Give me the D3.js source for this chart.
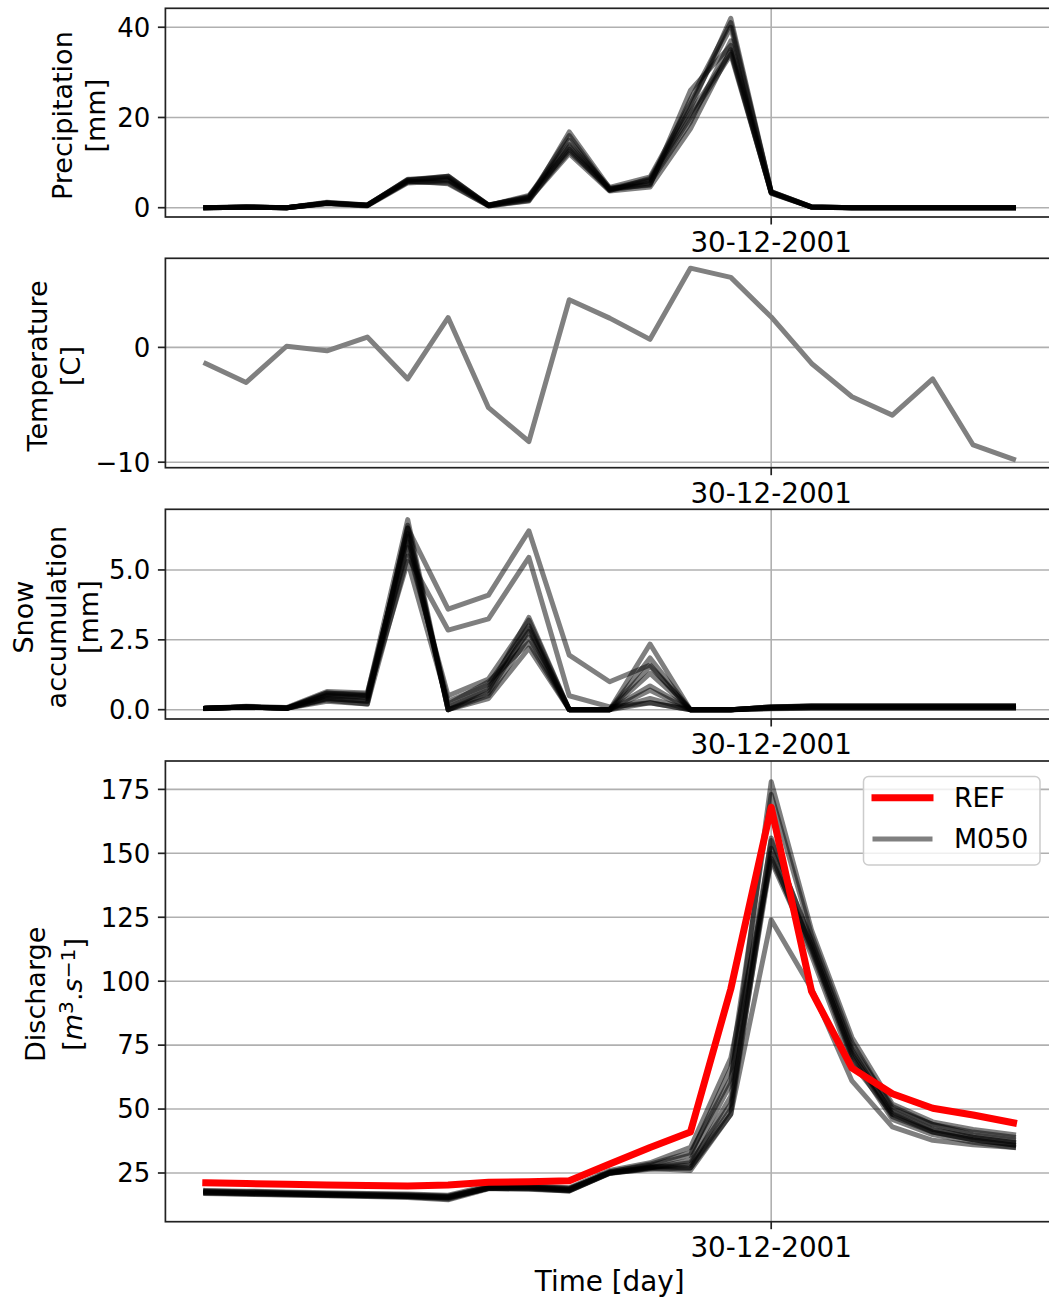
<!DOCTYPE html>
<html>
<head>
<meta charset="utf-8">
<script src="https://cdn.jsdelivr.net/npm/d3@7"></script>
<style>
  body { margin: 0; background: #fff; }
  svg text { font-family: "DejaVu Sans", sans-serif; fill: #000; }
</style>
</head>
<body>
<div id="canvas"></div>
<script>
// day index along the x axis, one tick label only
const days = [0,1,2,3,4,5,6,7,8,9,10,11,12,13,14,15,16,17,18,19,20];
const dateTicks = [14];
const dateLabels = ["30-12-2001"];

// precipitation ensemble [mm]
const precipMembers = [
  [0,0.1,0,1.1,0.6,6.2,7.0,0.5,2.5,13.0,3.8,6.5,22,42,3.5,0.2,0,0,0,0,0],
  [0,0.1,0,1.0,0.5,5.8,5.5,0.4,1.6,16.8,4.3,5.0,26,36,3.3,0.1,0,0,0,0,0],
  [0,0.2,0,1.2,0.6,6.0,6.8,0.6,2.2,15.0,4.0,6.0,20,34,3.4,0.2,0,0,0,0,0],
  [0,0.1,0,0.9,0.4,5.5,6.0,0.5,1.8,12.0,3.7,4.6,17.5,35,3.2,0.1,0,0,0,0,0],
  [0,0.1,0,1.0,0.5,6.3,6.5,0.5,2.7,14.0,4.5,6.8,23,40,3.6,0.2,0,0,0,0,0],
  [0,0.1,0,1.1,0.5,5.9,5.3,0.4,1.5,13.5,4.1,5.5,19,37,3.4,0.1,0,0,0,0,0],
  [0,0.1,0,1.0,0.6,6.1,7.0,0.6,2.3,16.0,3.9,5.2,24,41,3.5,0.2,0,0,0,0,0],
  [0,0.2,0,1.0,0.5,5.7,6.2,0.5,2.0,12.5,4.2,6.2,21,34.5,3.3,0.1,0,0,0,0,0]
];

// temperature [C]
const temperature = [-1.4,-3.05,0.1,-0.3,0.9,-2.75,2.6,-5.25,-8.2,4.15,2.55,0.7,6.9,6.1,2.65,-1.4,-4.3,-5.9,-2.75,-8.5,-9.75];

// snow accumulation ensemble [mm]
const snowMembers = [
  [0.05,0.1,0.05,0.4,0.3,6.5,3.6,4.1,6.4,1.95,1.0,1.6,0,0,0.1,0.12,0.12,0.12,0.12,0.12,0.12],
  [0.05,0.1,0.05,0.3,0.2,5.5,2.85,3.25,5.45,0.5,0.1,0.25,0,0,0.08,0.1,0.1,0.1,0.1,0.1,0.1],
  [0.05,0.1,0.05,0.6,0.55,6.8,0.0,0.5,2.6,0,0,2.35,0,0,0.1,0.12,0.12,0.12,0.12,0.12,0.12],
  [0.05,0.12,0.08,0.65,0.6,6.2,0.1,0.7,3.3,0,0,1.85,0,0,0.1,0.13,0.13,0.13,0.13,0.13,0.13],
  [0.04,0.1,0.05,0.5,0.4,6.5,0.0,0.4,2.2,0,0,1.55,0,0,0.05,0.08,0.08,0.08,0.08,0.08,0.08],
  [0.05,0.08,0.05,0.4,0.3,6.0,0.3,0.9,3.0,0,0,1.3,0,0,0.06,0.1,0.1,0.1,0.1,0.1,0.1],
  [0.05,0.1,0.06,0.55,0.5,5.8,0.5,1.1,3.2,0,0,0.85,0,0,0.04,0.06,0.06,0.06,0.06,0.06,0.06],
  [0.05,0.1,0.05,0.35,0.2,6.6,0.0,0.6,2.9,0,0,0.7,0,0,0.08,0.1,0.1,0.1,0.1,0.1,0.1],
  [0.05,0.1,0.05,0.5,0.45,5.3,0.2,1.0,2.4,0,0,0.4,0,0,0.03,0.05,0.05,0.05,0.05,0.05,0.05],
  [0.05,0.1,0.05,0.6,0.5,6.3,0.0,0.8,2.8,0,0,0.25,0,0,0.1,0.14,0.14,0.14,0.14,0.14,0.14]
];

// discharge ensemble [m3/s]
const dischargeMembers = [
  [17.5,17.1,16.8,16.4,16.1,15.8,15.3,19.0,18.6,18.0,25.0,26.5,27,48,124,97,61,43,37.8,36,35],
  [18.0,17.7,17.4,17.0,16.8,16.5,16.0,19.5,19.8,19.0,25.0,27.0,30,60,178,120,78,52,45,42,40],
  [17.5,17.2,16.9,16.6,16.3,16.0,15.5,19.0,19.3,18.6,25.5,28.0,32,66,173,118,76,50,44,41,39],
  [17.2,16.8,16.5,16.2,16.0,15.7,14.8,19.2,19.0,18.2,25.0,27.5,27,50,156,115,73,48,42,39,37],
  [17.0,16.7,16.4,16.1,15.8,15.4,14.5,18.8,18.8,18.0,24.8,26.8,26,48,152,113,72,47,41,38,36],
  [18.2,17.9,17.6,17.3,17.0,16.8,16.3,20.0,20.0,19.2,26.0,29.0,35,70,147,112,70,46,40,37,35],
  [17.6,17.3,17.0,16.7,16.4,16.1,15.6,19.6,19.6,18.8,25.2,27.2,28,55,150,110,68,48,41,38,36],
  [17.8,17.5,17.2,16.9,16.6,16.3,15.8,19.4,19.4,18.5,25.4,28.5,33,62,155,116,74,51,44,40,38],
  [17.3,17.0,16.7,16.4,16.1,15.8,15.2,19.0,19.2,18.3,24.9,27.0,29,52,148,114,71,49,42,39,37]
];

// observed reference discharge
const dischargeRef = [21.2,20.9,20.6,20.3,20.1,19.9,20.3,21.4,21.6,22.0,28.5,35,41,97,168,96,66,56,50.3,47.7,44.6];

const yTicksPrecip = [0,20,40];
const yTicksTemp = [-10,0];
const yTicksSnow = [0,2.5,5.0];
const yTicksDischarge = [25,50,75,100,125,150,175];

const legendLabels = ["REF","M050"];

const W = 1049, H = 1300;
const fontSize = 26;
const labelSize = 27;
const xLabelSize = 27.8;
const xLeft = 165.4, xRight = 1053.9;

const svg = d3.select("#canvas").append("svg")
  .attr("width", W).attr("height", H);

const x = d3.scaleLinear().domain([-1,21]).range([xLeft, xRight]);

function panel(cfg){
  const y = d3.scaleLinear().domain(cfg.domain).range([cfg.bottom, cfg.top]);
  const g = svg.append("g");

  // grid
  g.selectAll(".hgrid").data(cfg.ticks).enter().append("line")
    .attr("x1", xLeft).attr("x2", xRight)
    .attr("y1", d => y(d)).attr("y2", d => y(d))
    .attr("stroke", "#b0b0b0").attr("stroke-width", 1.6);
  g.selectAll(".vgrid").data(dateTicks).enter().append("line")
    .attr("x1", d => x(d)).attr("x2", d => x(d))
    .attr("y1", cfg.top).attr("y2", cfg.bottom)
    .attr("stroke", "#b0b0b0").attr("stroke-width", 1.6);

  const line = d3.line().x((d,i) => x(days[i])).y(d => y(d));

  // ensemble or single series
  cfg.series.forEach(s => {
    g.append("path").datum(s.values)
      .attr("d", line)
      .attr("fill", "none")
      .attr("stroke", s.color)
      .attr("stroke-opacity", s.opacity)
      .attr("stroke-width", s.width)
      .attr("stroke-linecap", "square")
      .attr("stroke-linejoin", "round");
  });

  // spines
  g.append("rect")
    .attr("x", xLeft).attr("y", cfg.top)
    .attr("width", xRight - xLeft).attr("height", cfg.bottom - cfg.top)
    .attr("fill", "none").attr("stroke", "#222").attr("stroke-width", 1.7);

  // y axis ticks
  g.selectAll(".ytick").data(cfg.ticks).enter().append("line")
    .attr("x1", xLeft - 7.5).attr("x2", xLeft)
    .attr("y1", d => y(d)).attr("y2", d => y(d))
    .attr("stroke", "#222").attr("stroke-width", 1.7);
  g.selectAll(".ylab").data(cfg.ticks).enter().append("text")
    .attr("x", xLeft - 15).attr("y", d => y(d))
    .attr("dy", "0.36em")
    .attr("text-anchor", "end")
    .style("font-size", fontSize + "px")
    .text(cfg.format);

  // x date tick
  g.selectAll(".xtick").data(dateTicks).enter().append("line")
    .attr("x1", d => x(d)).attr("x2", d => x(d))
    .attr("y1", cfg.bottom).attr("y2", cfg.bottom + 7.5)
    .attr("stroke", "#222").attr("stroke-width", 1.7);
  g.selectAll(".xlab").data(dateTicks).enter().append("text")
    .attr("x", d => x(d)).attr("y", cfg.bottom + 35)
    .attr("text-anchor", "middle")
    .style("font-size", xLabelSize + "px")
    .text((d,i) => dateLabels[i]);

  // y label, one text per line, rotated
  const cy = (cfg.top + cfg.bottom) / 2 + 3;
  cfg.label.forEach(l => {
    const t = g.append("text")
      .attr("transform", "translate(" + l.x + "," + cy + ") rotate(-90)")
      .attr("text-anchor", "middle")
      .style("font-size", labelSize + "px");
    l.parts.forEach(p => {
      t.append("tspan")
        .attr("dy", p.dy || 0)
        .style("font-style", p.italic ? "italic" : "normal")
        .style("font-size", p.small ? (labelSize * 0.75) + "px" : null)
        .text(p.t);
    });
  });

  return {g: g, y: y};
}

const ens = (vals) => vals.map(v => ({values: v, color: "#000", opacity: 0.5, width: 5}));

panel({
  top: 8.3, bottom: 217, domain: [-2.06, 44.2],
  ticks: yTicksPrecip, format: d => d,
  series: ens(precipMembers),
  label: [
    {x: 72, parts: [{t: "Precipitation"}]},
    {x: 105, parts: [{t: "[mm]"}]}
  ]
});

panel({
  top: 258.3, bottom: 467.7, domain: [-10.48, 7.76],
  ticks: yTicksTemp, format: d => d < 0 ? "\u2212" + Math.abs(d) : d,
  series: [{values: temperature, color: "#808080", opacity: 1, width: 5}],
  label: [
    {x: 47, parts: [{t: "Temperature"}]},
    {x: 80, parts: [{t: "[C]"}]}
  ]
});

panel({
  top: 509.3, bottom: 719, domain: [-0.333, 7.17],
  ticks: yTicksSnow, format: d3.format(".1f"),
  series: ens(snowMembers),
  label: [
    {x: 33, parts: [{t: "Snow"}]},
    {x: 66, parts: [{t: "accumulation"}]},
    {x: 98, parts: [{t: "[mm]"}]}
  ]
});

const dis = panel({
  top: 761, bottom: 1221.7, domain: [5.96, 186.1],
  ticks: yTicksDischarge, format: d => d,
  series: ens(dischargeMembers).concat([{values: dischargeRef, color: "#ff0000", opacity: 1, width: 7}]),
  label: [
    {x: 45, parts: [{t: "Discharge"}]},
    {x: 82, parts: [
      {t: "["}, {t: "m", italic: true}, {t: "3", small: true, dy: "-0.45em"},
      {t: ".", dy: "0.34em"}, {t: "s", italic: true}, {t: "\u22121", small: true, dy: "-0.34em"},
      {t: "]", dy: "0.34em"}
    ]}
  ]
});

// legend
const legendColors = ["#ff0000", "#808080"];
const legendWidths = [7, 5];
const leg = dis.g.append("g");
leg.append("rect")
  .attr("x", 863.5).attr("y", 776.5).attr("width", 176.5).attr("height", 88.5)
  .attr("rx", 5).attr("fill", "#fff").attr("fill-opacity", 0.8)
  .attr("stroke", "#cccccc").attr("stroke-width", 1.5);
leg.selectAll(".lline").data(legendLabels).enter().append("line")
  .attr("x1", 875).attr("x2", 930)
  .attr("y1", (d,i) => 797.7 + i * 41.3).attr("y2", (d,i) => 797.7 + i * 41.3)
  .attr("stroke", (d,i) => legendColors[i])
  .attr("stroke-width", (d,i) => legendWidths[i])
  .attr("stroke-linecap", "square");
leg.selectAll(".ltext").data(legendLabels).enter().append("text")
  .attr("x", 954).attr("y", (d,i) => 807 + i * 41)
  .style("font-size", (fontSize + 0.8) + "px")
  .text(d => d);

// x axis title
svg.append("text")
  .attr("x", (xLeft + xRight) / 2).attr("y", 1291)
  .attr("text-anchor", "middle")
  .style("font-size", xLabelSize + "px")
  .text("Time [day]");
</script>
</body>
</html>
